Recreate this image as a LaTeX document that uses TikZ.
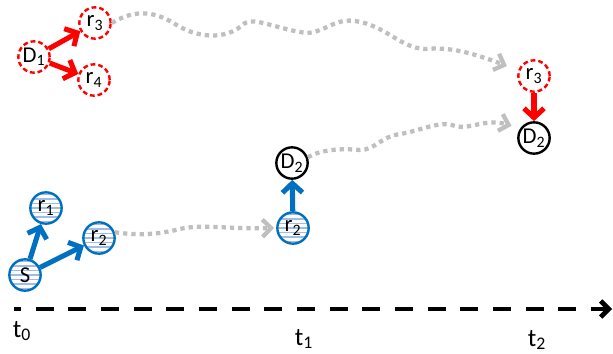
\documentclass[tikz,border=0pt]{standalone}
\usepackage{fontspec}
\setmainfont{Carlito}
\usetikzlibrary{arrows.meta}

\definecolor{evblue}{RGB}{0,112,192}
\definecolor{evstripe}{RGB}{160,188,228}
\definecolor{evgray}{RGB}{191,191,191}

\begin{document}
\begin{tikzpicture}[
    x=0.75pt, y=-0.75pt,
    font=\fontsize{17}{18}\selectfont,
    state/.style={circle, draw, line width=1.8pt, minimum size=23.5pt, inner sep=0pt},
    failed/.style={state, draw=red, dash pattern=on 3.6pt off 2.2pt},
    local/.style={state, draw=evblue, path picture={
        \foreach \k in {-4,...,4}
            \draw[evstripe, line width=1pt] ([yshift=\k*3.4pt]path picture bounding box.west) -- ++(30pt,0);}},
    timelabel/.style={font=\fontsize{19}{20}\selectfont, inner sep=1pt},
    push/.style={line width=3.8pt, -{Straight Barb[length=7pt, width=15pt]}},
    wave/.style={evgray, line width=3.2pt, dash pattern=on 3.2pt off 3pt, -{Straight Barb[length=6.5pt, width=13pt]}},
    timeline/.style={line width=3.5pt, dash pattern=on 13.5pt off 11pt, dash phase=8.25pt, -{Straight Barb[length=6pt, width=12pt]}}
]
    \useasboundingbox (0,0) rectangle (613,353);

    \node[failed] (D1) at (34,57) {D\textsubscript{1}};
    \node[failed] (r3) at (95,23) {r\textsubscript{3}};
    \node[failed] (r4) at (94,80) {r\textsubscript{4}};

    \node[local] (S) at (25,275) {S};
    \node[local] (r1) at (46,208) {r\textsubscript{1}};
    \node[local] (r2) at (99,238) {r\textsubscript{2}};

    \node[local] (r2b) at (293,228) {r\textsubscript{2}};
    \node[state] (D2) at (292,163) {D\textsubscript{2}};

    \node[failed] (r3b) at (534,76) {r\textsubscript{3}};
    \node[state] (D2b) at (534,138) {D\textsubscript{2}};

    \coordinate (axstart) at (14,309);
    \coordinate (axend) at (612,309);
    \node[timelabel] (t0) at (22,331) {t\textsubscript{0}};
    \node[timelabel] (t1) at (304,339) {t\textsubscript{1}};
    \node[timelabel] (t2) at (537,340) {t\textsubscript{2}};

    \draw[push, red] (D1) -- (r3);
    \draw[push, red] (D1) -- (r4);
    \draw[push, red] (r3b) -- (D2b);
    \draw[push, evblue] (S) -- (r1);
    \draw[push, evblue] (S) -- (r2);
    \draw[push, evblue] (r2b) -- (D2);

    \draw[wave, shorten >=12pt*0.75] (r3.east) .. controls (130,12) and (150,8) .. (175,24)
        .. controls (195,37) and (225,42) .. (245,23)
        .. controls (255,17) and (280,30) .. (307,33)
        .. controls (325,32) and (335,18) .. (355,21)
        .. controls (385,25) and (400,48) .. (425,49)
        .. controls (450,47) and (470,52) .. (r3b.160);
    \draw[wave, shorten >=1.5pt] (r2.20) .. controls (140,236) and (160,234) .. (180,229)
        .. controls (200,224) and (225,229) .. (r2b.west);
    \draw[wave, shorten >=9pt*0.75] (D2.20) .. controls (320,150) and (340,148) .. (360,150)
        .. controls (375,150) and (380,137) .. (400,134)
        .. controls (420,131) and (440,120) .. (455,126)
        .. controls (470,130) and (485,118) .. (D2b.145);

    \draw[timeline] (axstart) -- (axend);
\end{tikzpicture}
\end{document}
